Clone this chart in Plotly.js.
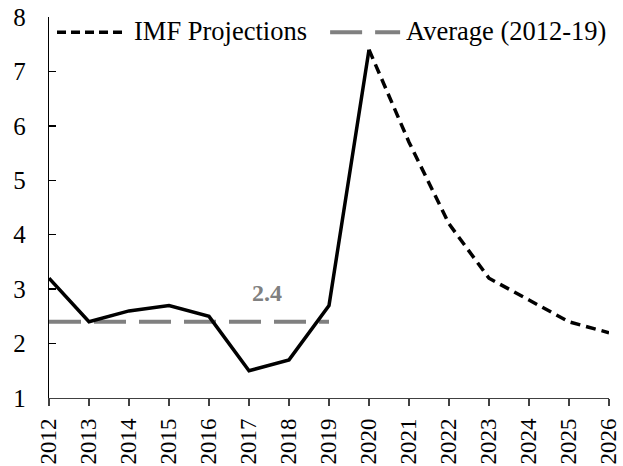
<!DOCTYPE html>
<html>
<head>
<meta charset="utf-8">
<script src="https://cdn.plot.ly/plotly-3.0.1.min.js"></script>
<style>html,body{margin:0;padding:0;background:#fff;}#chart{width:623px;height:466px;}</style>
</head>
<body>
<div id="chart"></div>
<script>
// Data
const actualYears = [2012, 2013, 2014, 2015, 2016, 2017, 2018, 2019, 2020];
const actualValues = [3.2, 2.4, 2.6, 2.7, 2.5, 1.5, 1.7, 2.7, 7.4];
const projYears = [2020, 2021, 2022, 2023, 2024, 2025, 2026];
const projValues = [7.4, 5.7, 4.2, 3.2, 2.8, 2.4, 2.2];
const avgYears = [2012, 2013, 2014, 2015, 2016, 2017, 2018, 2019];
const avgValues = [2.4, 2.4, 2.4, 2.4, 2.4, 2.4, 2.4, 2.4];
const tickYears = [2012, 2013, 2014, 2015, 2016, 2017, 2018, 2019, 2020, 2021, 2022, 2023, 2024, 2025, 2026];
const legendNames = ["IMF Projections", "Average (2012-19)"];

const FONT = "Liberation Serif";
const GRAY = "#808080";

const traces = [
  {x: avgYears, y: avgValues, mode: "lines", name: legendNames[1], showlegend: false,
   line: {color: GRAY, width: 4, dash: "32px,13px"}, cliponaxis: false, hoverinfo: "skip"},
  {x: actualYears, y: actualValues, mode: "lines", name: "Actual", showlegend: false,
   line: {color: "#000", width: 3.5}, cliponaxis: false},
  {x: projYears, y: projValues, mode: "lines", name: legendNames[0], showlegend: false,
   line: {color: "#000", width: 3.5, dash: "10px,6px"}, cliponaxis: false}
];

const layout = {
  width: 623, height: 466,
  margin: {l: 49, r: 14, t: 17, b: 68, pad: 0},
  paper_bgcolor: "#fff", plot_bgcolor: "#fff",
  showlegend: false,
  font: {family: FONT, size: 24, color: "#000"},
  xaxis: {
    range: [2012, 2026], tickvals: tickYears, ticktext: tickYears.map(String),
    tickangle: -90, showgrid: false, zeroline: false,
    showline: true, linecolor: "#404040", linewidth: 1.3,
    ticks: "outside", ticklen: 7, tickwidth: 1.3, tickcolor: "#404040",
    tickfont: {family: FONT, size: 23, color: "#000"}, ticklabelstandoff: 3
  },
  yaxis: {
    range: [1, 8], dtick: 1, tick0: 1, showgrid: false, zeroline: false,
    showline: true, linecolor: "#000", linewidth: 1.3,
    ticks: "inside", ticklen: 7, tickwidth: 1.3, tickcolor: "#000",
    tickfont: {family: FONT, size: 25, color: "#000"}, ticklabelstandoff: 17
  },
  shapes: [
    {type: "line", xref: "paper", yref: "paper", x0: 0.0143, x1: 0.136, y0: 0.96, y1: 0.96,
     line: {color: "#000", width: 3.5, dash: "9px,5px"}},
    {type: "line", xref: "paper", yref: "paper", x0: 0.502, x1: 0.627, y0: 0.96, y1: 0.96,
     line: {color: GRAY, width: 4, dash: "32px,13px"}}
  ],
  annotations: [
    {xref: "paper", yref: "paper", x: 0.148, y: 0.962, xanchor: "left", yanchor: "middle",
     text: legendNames[0], showarrow: false, font: {family: FONT, size: 26.5, color: "#000"}},
    {xref: "paper", yref: "paper", x: 0.634, y: 0.962, xanchor: "left", yanchor: "middle",
     text: legendNames[1], showarrow: false, font: {family: FONT, size: 26.5, color: "#000"}},
    {x: 2017.45, y: avgValues[0] + 0.53, text: "<b>" + avgValues[0].toFixed(1) + "</b>",
     showarrow: false, font: {family: FONT, size: 24, color: GRAY}}
  ]
};

Plotly.newPlot("chart", traces, layout, {staticPlot: true, displayModeBar: false});
</script>
</body>
</html>
